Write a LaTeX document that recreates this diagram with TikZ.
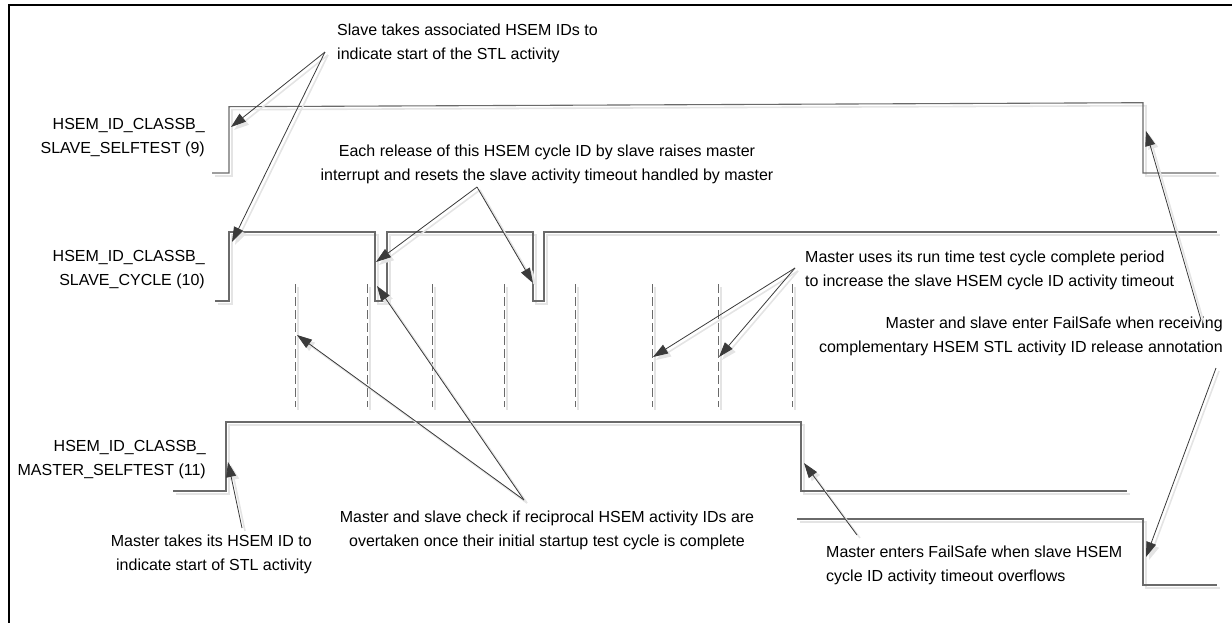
\documentclass[tikz,border=0pt]{standalone}
\usepackage{fontspec}
\setmainfont{Liberation Sans}
\usetikzlibrary{arrows.meta}
\definecolor{sig}{HTML}{6A6A6A}
\definecolor{arr}{HTML}{3A3A3A}
\definecolor{shade}{HTML}{E4E4E4}
\tikzset{
  shadowed/.style={preaction={draw=shade, line width=1.6pt, transform canvas={shift={(3,3)}}}},
  signal/.style={draw=sig, line width=1.1pt, line join=miter, shadowed},
  tickline/.style={draw=sig, line width=1pt, dash pattern=on 9pt off 4pt, shadowed},
  pointer/.style={draw=arr, line width=0.8pt, -{Triangle[length=15pt,width=10pt]}, shadowed},
  note/.style={inner sep=0pt, font=\fontsize{16}{24}\selectfont},
  label/.style={note, anchor=east, align=right},
}
\begin{document}
\begin{tikzpicture}[x=1pt, y=-1pt]
  \useasboundingbox (0,0) rectangle (1232,622);
  \clip (0,0) rectangle (1232,622);

  % outer frame (top and left edges)
  \draw[line width=2.4pt] (9,640) -- (9,5) -- (1250,5);

  % signal names
  \node[label] (lab9)  at (205,138) {HSEM\_ID\_CLASSB\_\\SLAVE\_SELFTEST (9)};
  \node[label] (lab10) at (205,270) {HSEM\_ID\_CLASSB\_\\SLAVE\_CYCLE (10)};
  \node[label] (lab11) at (206,460) {HSEM\_ID\_CLASSB\_\\MASTER\_SELFTEST (11)};

  % waveforms
  \draw[signal] (212,173) -- (229,173) -- (229,106.7) -- (1143,102.7) -- (1143,173) -- (1216,173);
  \draw[signal] (215,301) -- (229,301) -- (229,232) -- (375,232) -- (375,301) -- (387,301)
                -- (387,232) -- (533,232) -- (533,301) -- (544,301) -- (544,232) -- (1217,232);
  \draw[signal] (173,491) -- (226,491) -- (226,422) -- (801,422) -- (801,491) -- (1127,491);
  \draw[signal] (797,519) -- (1143,519) -- (1143,585) -- (1217,585);

  % test cycle markers
  \foreach \x in {295,367,432,504,575,652,718,792}
    \draw[tickline] (\x,284) -- (\x,407);

  % annotations
  \node[note, anchor=west, align=left] (slavetakes) at (337,43)
    {Slave takes associated HSEM IDs to\\indicate start of the STL activity};
  \node[note, align=center] (release) at (547,164)
    {Each release of this HSEM cycle ID by slave raises master\\interrupt and resets the slave activity timeout handled by master};
  \node[note, anchor=west, align=left] (uses) at (805,270)
    {Master uses its run time test cycle complete period\\to increase the slave HSEM cycle ID activity timeout};
  \node[note, anchor=east, align=right] (failboth) at (1223,336)
    {Master and slave enter FailSafe when receiving\\complementary HSEM STL activity ID release annotation};
  \node[note, align=center] (check) at (547,530)
    {Master and slave check if reciprocal HSEM activity IDs are\\overtaken once their initial startup test cycle is complete};
  \node[note, anchor=east, align=right] (mtakes) at (312,554)
    {Master takes its HSEM ID to\\indicate start of STL activity};
  \node[note, anchor=west, align=left] (menters) at (826,565)
    {Master enters FailSafe when slave HSEM\\cycle ID activity timeout overflows};

  % pointer origins and targets
  \coordinate (o1) at (325,52);
  \coordinate (t1a) at (231,127);
  \coordinate (t1b) at (232,242);
  \coordinate (o2) at (477,187);
  \coordinate (t2a) at (376,262);
  \coordinate (t2b) at (533,283);
  \coordinate (o3) at (795,268);
  \coordinate (t3a) at (653,357);
  \coordinate (t3b) at (719,357);
  \coordinate (o4) at (524,500);
  \coordinate (t4a) at (297,335);
  \coordinate (t4b) at (377,286);
  \coordinate (o5) at (242,528);
  \coordinate (t5) at (228,462);
  \coordinate (o6) at (857,535);
  \coordinate (t6) at (804,463);
  \coordinate (o7) at (1201,320);
  \coordinate (t7) at (1146,131);
  \coordinate (o8) at (1216,368);
  \coordinate (t8) at (1146,557);

  \draw[pointer] (o1) -- (t1a);
  \draw[pointer] (o1) -- (t1b);
  \draw[pointer] (o2) -- (t2a);
  \draw[pointer] (o2) -- (t2b);
  \draw[pointer] (o3) -- (t3a);
  \draw[pointer] (o3) -- (t3b);
  \draw[pointer] (o4) -- (t4a);
  \draw[pointer] (o4) -- (t4b);
  \draw[pointer] (o5) -- (t5);
  \draw[pointer] (o6) -- (t6);
  \draw[pointer] (o7) -- (t7);
  \draw[pointer] (o8) -- (t8);
\end{tikzpicture}
\end{document}
